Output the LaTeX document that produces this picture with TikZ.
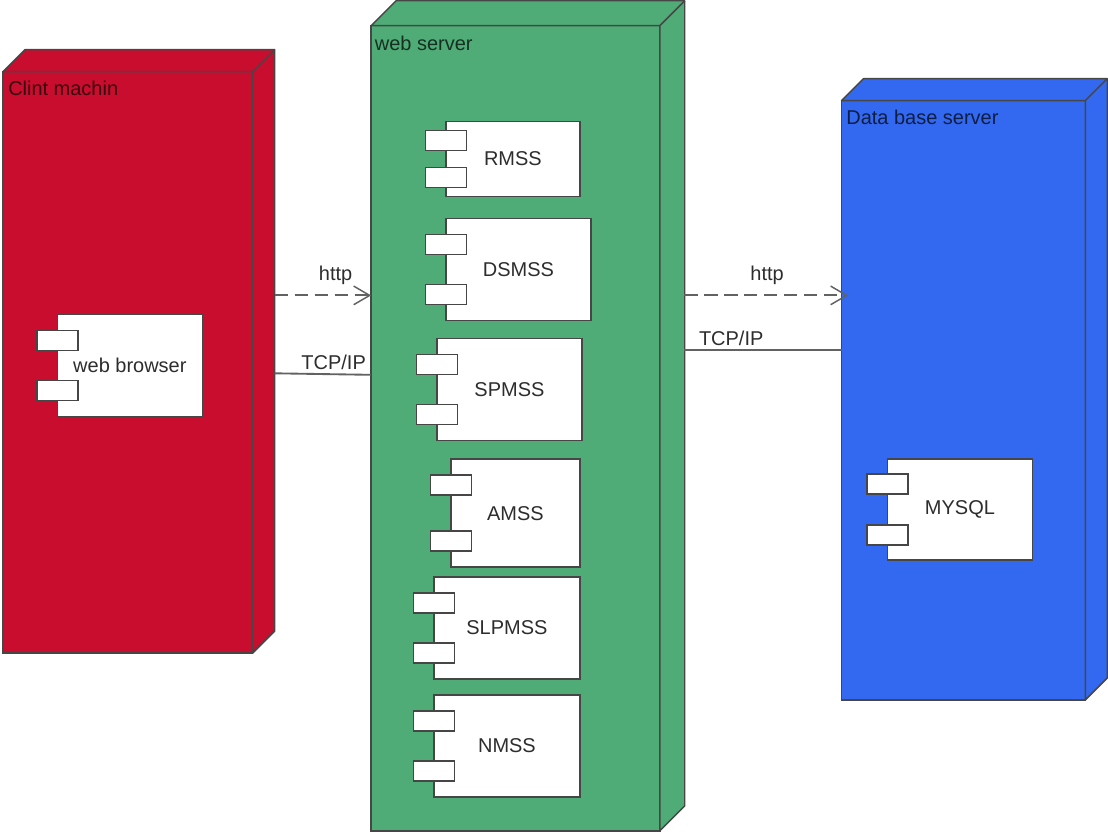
\documentclass[tikz,border=0pt]{standalone}
\usepackage{fontspec}
\setmainfont{Liberation Sans}
\usetikzlibrary{arrows.meta, positioning}
\definecolor{clientred}{RGB}{201,13,47}
\definecolor{webgreen}{RGB}{79,172,119}
\definecolor{dbblue}{RGB}{51,105,240}
\definecolor{edgegray}{RGB}{70,70,70}
\definecolor{textgray}{RGB}{45,45,45}
\newcommand{\px}{0.75pt}

\begin{document}
\begin{tikzpicture}[
    x=\px, y=-\px,
    boxsize/.style 2 args={minimum width=#1*\px, minimum height=#2*\px},
    device/.style={rectangle, draw=edgegray, line width=1.1pt, inner sep=0pt, outer sep=0pt, anchor=north west},
    depthface/.style={draw=edgegray, line width=1.1pt, line join=round},
    comp/.style={rectangle, draw=edgegray, fill=white, line width=1.1pt, inner sep=0pt, outer sep=0pt,
                anchor=north west, font=\fontsize{15pt}{18pt}\selectfont, text=textgray},
    tab/.style={rectangle, draw=edgegray, fill=white, line width=1.1pt, inner sep=0pt, outer sep=0pt,
                boxsize={41}{20}},
    devlabel/.style={font=\fontsize{15pt}{18pt}\selectfont, text=black, text opacity=0.72, anchor=west, inner sep=0pt},
    linklabel/.style={font=\fontsize{15pt}{18pt}\selectfont, text=textgray, inner sep=0pt},
    link/.style={draw=edgegray!85, line width=1.4pt},
    dep/.style={link, dash pattern=on 10pt off 5pt, -{Straight Barb[length=12pt, width=14pt, line width=1.1pt]}}
]
    % Devices
    \node[device, fill=clientred, boxsize={250}{582}] (client) at (3,71) {};
    \node[device, fill=webgreen, boxsize={289}{806}] (web) at (371.5,25) {};
    \node[device, fill=dbblue, boxsize={244}{600}] (db) at (842.5,100) {};

    % Depth of the devices
    \foreach \dev/\col/\dep in {client/clientred/22, web/webgreen/25, db/dbblue/22} {
        \draw[depthface, fill=\col] (\dev.north west) -- ++(\dep,-\dep)
            -- ([shift={(\dep,-\dep)}]\dev.north east)
            -- ([shift={(\dep,-\dep)}]\dev.south east)
            -- (\dev.south east) -- (\dev.north east) -- cycle;
        \draw[depthface] (\dev.north east) -- ++(\dep,-\dep);
    }

    % Device labels
    \node[devlabel] (client-label) at (8,87.5) {Clint machin};
    \node[devlabel] (web-label) at (375,42.5) {web server};
    \node[devlabel] (db-label) at (847,117) {Data base server};

    % Components
    \node[comp, boxsize={134}{75}] (rmss) at (446.5,121) {RMSS};
    \node[comp, boxsize={145}{102}] (browser) at (57.5,314) {web browser};
    \node[comp, boxsize={145}{102}] (dsmss) at (446.5,218) {DSMSS};
    \node[comp, boxsize={145}{102}] (spmss) at (437.5,338) {SPMSS};
    \node[comp, boxsize={129}{108}] (amss) at (451.5,459) {AMSS};
    \node[comp, boxsize={146}{102}] (slpmss) at (434.5,577) {SLPMSS};
    \node[comp, boxsize={146}{102}] (nmss) at (434.5,695) {NMSS};
    \node[comp, boxsize={145}{101}] (mysql) at (888.5,459) {MYSQL};

    % Component tabs
    \foreach \comp/\gap in {browser/26, rmss/19, dsmss/26, spmss/26, amss/26, slpmss/26, nmss/26, mysql/25} {
        \node[tab] (\comp-tab1) at ([shift={(0,\gap)}]\comp.north west) {};
        \node[tab] (\comp-tab2) at ([shift={(0,-\gap)}]\comp.south west) {};
    }

    % Connector ends on the side faces
    \coordinate (client-http) at (275,295);
    \coordinate (client-tcp) at (275,373);
    \coordinate (web-tcp) at (371,374.5);
    \coordinate (web-http) at (685,295);
    \coordinate (web-tcp2) at (685,350);
    \coordinate (db-http) at (849,295);

    % Connectors
    \draw[dep] (client-http) -- (web.west |- client-http);
    \draw[link] (client-tcp) -- (web-tcp);
    \draw[dep] (web-http) -- (db-http);
    \draw[link] (web-tcp2) -- (db.west |- web-tcp2);

    % Connector labels
    \node[linklabel] (http-left) at (336,275) {http};
    \node[linklabel] (tcp-left) at (334,362) {TCP/IP};
    \node[linklabel] (http-right) at (768,275) {http};
    \node[linklabel] (tcp-right) at (732,338) {TCP/IP};

    \useasboundingbox (0,0) rectangle (1108,834);
\end{tikzpicture}
\end{document}
